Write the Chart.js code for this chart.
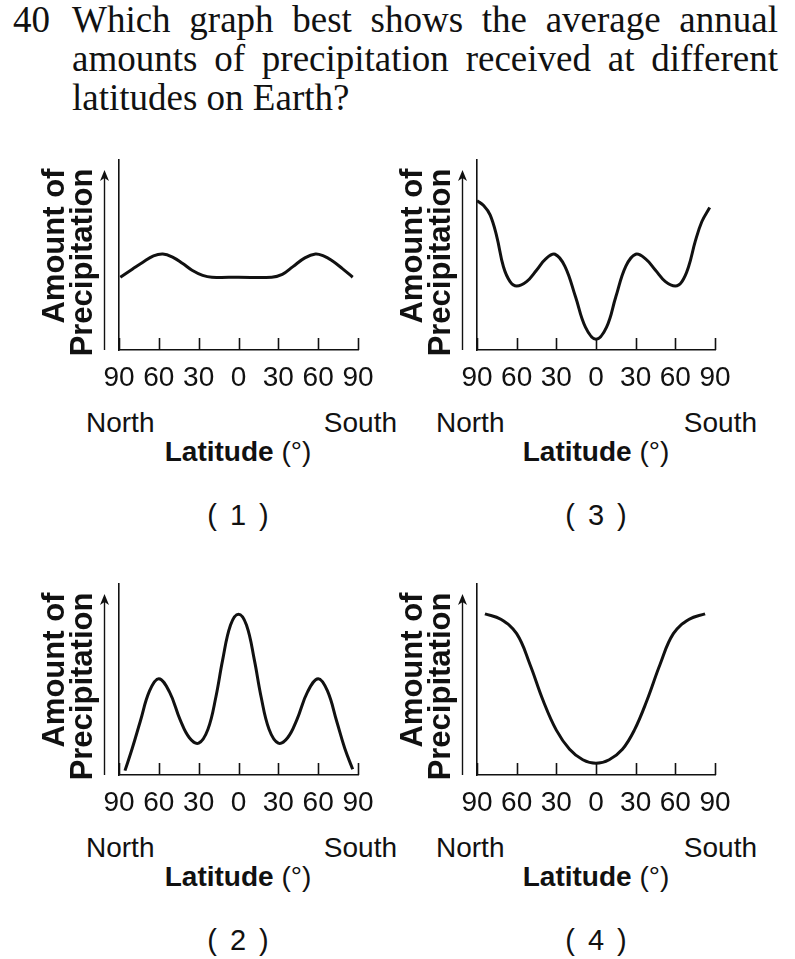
<!DOCTYPE html>
<html>
<head>
<meta charset="utf-8">
<script src="https://cdn.jsdelivr.net/npm/chart.js@4.4.1/dist/chart.umd.min.js"></script>
<style>
  body { margin: 0; width: 795px; height: 959px; background: #fff; position: relative; overflow: hidden; color: #111; }
  .q { position: absolute; font-family: "Liberation Serif", "Times New Roman", serif; font-size: 37px; line-height: 39px; }
  .qnum { left: 13px; top: 0; }
  .qtext { left: 72px; top: 0; width: 706px; }
  .qtext .j { display: block; text-align: justify; text-align-last: justify; }
  canvas { position: absolute; }
  .lbl { position: absolute; font-family: "Liberation Sans", Arial, Helvetica, sans-serif; font-size: 28px; line-height: 28px; white-space: nowrap; }
  .ctr { transform: translateX(-50%); }
  .cap { font-size: 29px; word-spacing: 5px; }
</style>
</head>
<body>
<div class="q qnum">40</div>
<div class="q qtext">
  <span class="j">Which graph best shows the average annual</span>
  <span class="j">amounts of precipitation received at different</span>
  <span>latitudes on Earth?</span>
</div>

<canvas id="c1" width="369" height="250" style="left:29px;top:150px"></canvas>
<canvas id="c3" width="368" height="250" style="left:387px;top:150px"></canvas>
<canvas id="c2" width="369" height="251" style="left:29px;top:574px"></canvas>
<canvas id="c4" width="368" height="251" style="left:387px;top:574px"></canvas>

<div class="lbl" style="left:86px;top:409px">North</div>
<div class="lbl" style="right:398px;top:409px">South</div>
<div class="lbl ctr" style="left:238px;top:438px"><b>Latitude</b> (°)</div>
<div class="lbl ctr cap" style="left:238px;top:501px">( 1 )</div>

<div class="lbl" style="left:436px;top:409px">North</div>
<div class="lbl" style="right:38px;top:409px">South</div>
<div class="lbl ctr" style="left:596px;top:438px"><b>Latitude</b> (°)</div>
<div class="lbl ctr cap" style="left:596px;top:501px">( 3 )</div>

<div class="lbl" style="left:86px;top:834px">North</div>
<div class="lbl" style="right:398px;top:834px">South</div>
<div class="lbl ctr" style="left:238px;top:863px"><b>Latitude</b> (°)</div>
<div class="lbl ctr cap" style="left:238px;top:926px">( 2 )</div>

<div class="lbl" style="left:436px;top:834px">North</div>
<div class="lbl" style="right:38px;top:834px">South</div>
<div class="lbl ctr" style="left:596px;top:863px"><b>Latitude</b> (°)</div>
<div class="lbl ctr cap" style="left:596px;top:926px">( 4 )</div>

<script>
// latitude: negative = North, positive = South
const latTicks = [-90, -60, -30, 0, 30, 60, 90];
const tickLabels = ["90", "60", "30", "0", "30", "60", "90"];

// graph (1)
const lat1 = [-89, -80, -72, -64, -57, -50, -42, -35, -27, -20, 0, 25, 33, 41, 50, 58, 64, 70, 78, 86];
const precip1 = [3.83, 4.25, 4.62, 4.95, 5.05, 4.9, 4.55, 4.2, 3.93, 3.83, 3.83, 3.83, 3.98, 4.39, 4.85, 5.05, 4.95, 4.72, 4.3, 3.83];

// graph (3)
const lat3 = [-90, -85, -80, -75, -70, -65, -60, -52.5, -45, -38, -31, -23.5, -15.5, -8, 0, 8, 15, 22.5, 30, 37.5, 45, 52.5, 60, 65, 70, 75, 80, 86];
const precip3 = [7.86, 7.6, 7.1, 5.96, 4.38, 3.6, 3.37, 3.6, 4.2, 4.8, 5.04, 4.4, 2.8, 1.2, 0.56, 1.2, 2.8, 4.4, 5.04, 4.8, 4.2, 3.6, 3.37, 3.6, 4.38, 5.7, 6.75, 7.5];

// graph (2)
const lat2 = [-85.5, -80, -74, -67, -60, -52, -44, -37, -30, -23, -17, -12, -6, 0, 6, 12, 17, 23, 30, 37, 44, 52, 60, 67, 74, 80, 86];
const precip2 = [0.23, 1.4, 2.8, 4.4, 5.04, 4.35, 2.9, 1.95, 1.67, 2.4, 4.1, 6.0, 7.85, 8.42, 7.85, 6.0, 4.1, 2.4, 1.67, 1.95, 2.9, 4.35, 5.04, 4.4, 2.8, 1.4, 0.3];

// graph (4)
const lat4 = [-84, -72, -60, -50, -40, -30, -20, -10, 0, 10, 20, 29, 38.5, 48.5, 58.5, 70.5, 82.5];
const precip4 = [8.44, 8.15, 7.4, 5.8, 3.9, 2.35, 1.35, 0.8, 0.61, 0.8, 1.35, 2.35, 3.9, 5.8, 7.4, 8.15, 8.44];

const yTitle = ["Amount of ", "Precipitation "];
const ink = "#111";

// upward tick marks on the latitude axis + the arrow beside the y axis
const axisMarks = {
  id: "axisMarks",
  afterDraw(chart) {
    const { ctx, chartArea } = chart;
    const x = chart.scales.x;
    ctx.save();
    ctx.strokeStyle = ink;
    ctx.fillStyle = ink;
    ctx.lineWidth = 1.6;
    ctx.beginPath();
    latTicks.forEach(v => {
      const px = Math.round(x.getPixelForValue(v)) + 0.5;
      ctx.moveTo(px, chartArea.bottom);
      ctx.lineTo(px, chartArea.bottom - 12);
    });
    ctx.stroke();

    const ax = Math.round(chartArea.left - 15) + 0.5;
    const tip = chartArea.top + 10;
    ctx.lineWidth = 1.4;
    ctx.beginPath();
    ctx.moveTo(ax, chartArea.bottom);
    ctx.lineTo(ax, tip + 6);
    ctx.stroke();
    ctx.beginPath();
    ctx.moveTo(ax, tip);
    ctx.lineTo(ax - 4.5, tip + 11);
    ctx.lineTo(ax, tip + 8);
    ctx.lineTo(ax + 4.5, tip + 11);
    ctx.closePath();
    ctx.fill();
    ctx.restore();
  }
};

function makeChart(id, lats, values) {
  const points = lats.map((la, i) => ({ x: la, y: values[i] }));
  return new Chart(document.getElementById(id), {
    type: "line",
    data: {
      datasets: [{
        data: points,
        borderColor: ink,
        borderWidth: 3,
        pointRadius: 0,
        fill: false,
        tension: 0.4,
        borderCapStyle: "butt"
      }]
    },
    options: {
      responsive: false,
      animation: false,
      events: [],
      layout: { padding: { top: 10, right: 40, bottom: 0, left: 0 } },
      plugins: { legend: { display: false }, tooltip: { enabled: false } },
      scales: {
        x: {
          type: "linear",
          min: -90,
          max: 90,
          afterBuildTicks: (s) => { s.ticks = latTicks.map(v => ({ value: v })); },
          afterFit: (s) => { s.height = 50; },
          grid: { display: false, drawTicks: false },
          border: { display: true, color: ink, width: 1.6 },
          ticks: {
            autoSkip: false,
            maxRotation: 0,
            padding: 11,
            color: ink,
            font: { family: "'Liberation Sans', Arial, Helvetica, sans-serif", size: 28 },
            callback: (v) => tickLabels[latTicks.indexOf(v)]
          }
        },
        y: {
          min: 0,
          max: 10,
          afterFit: (s) => { s.width = 90; },
          grid: { display: false, drawTicks: false },
          border: { display: true, color: ink, width: 1.6 },
          ticks: { display: false },
          title: {
            display: true,
            text: yTitle,
            align: "end",
            color: ink,
            padding: { top: 12.5, bottom: 0 },
            font: { family: "'Liberation Sans', Arial, Helvetica, sans-serif", size: 31, weight: "bold", lineHeight: "28px" }
          }
        }
      }
    },
    plugins: [axisMarks]
  });
}

makeChart("c1", lat1, precip1);
makeChart("c3", lat3, precip3);
makeChart("c2", lat2, precip2);
makeChart("c4", lat4, precip4);
</script>
</body>
</html>
